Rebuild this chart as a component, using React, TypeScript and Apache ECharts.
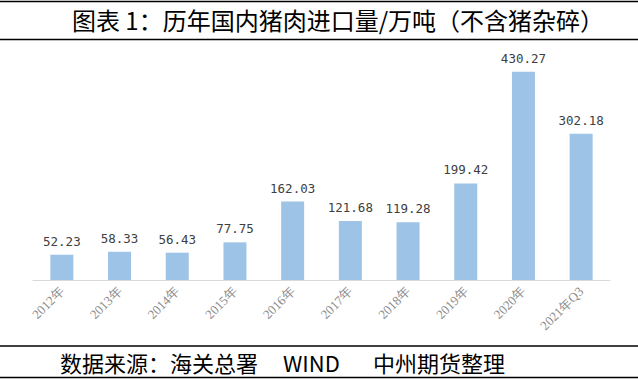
import React, { useEffect, useRef } from "react";
import * as echarts from "echarts";

const categories = ["2012年", "2013年", "2014年", "2015年", "2016年", "2017年", "2018年", "2019年", "2020年", "2021年Q3"];
const imports = [52.23, 58.33, 56.43, 77.75, 162.03, 121.68, 119.28, 199.42, 430.27, 302.18];
const titleText = "图表 1：历年国内猪肉进口量/万吨（不含猪杂碎）";
const sourceParts = ["数据来源：海关总署", "WIND", "中州期货整理"];

export default function App() {
  const ref = useRef<HTMLDivElement>(null);
  useEffect(() => {
    document.body.style.margin = "0";
    const chart = echarts.init(ref.current!, null, { renderer: "svg" });
    const footerX = [60, 283, 373];
    chart.setOption({
      animation: false,
      grid: { left: 33, right: 28, top: 38, bottom: 100, containLabel: false },
      xAxis: {
        type: "category",
        data: categories,
        axisTick: { show: false },
        axisLine: { lineStyle: { color: "#d9d9d9", width: 1 } },
        axisLabel: {
          rotate: 45,
          color: "#8c8c8c",
          fontFamily: "Liberation Serif",
          fontSize: 13,
          margin: 9,
          interval: 0,
        },
      },
      yAxis: {
        type: "value",
        min: 0,
        max: 500,
        show: false,
        splitLine: { show: false },
      },
      series: [
        {
          type: "bar",
          data: imports,
          barWidth: 23,
          itemStyle: { color: "#9dc3e6" },
          label: {
            show: true,
            position: "top",
            distance: 7,
            color: "#404040",
            fontFamily: "DejaVu Sans Mono",
            fontSize: 12.5,
            formatter: (p: any) => p.value.toFixed(2),
          },
        },
      ],
      graphic: [
        { type: "line", shape: { x1: 0, y1: 1.5, x2: 638, y2: 1.5 }, style: { stroke: "#000", lineWidth: 1.5 } },
        { type: "line", shape: { x1: 0, y1: 39.5, x2: 638, y2: 39.5 }, style: { stroke: "#000", lineWidth: 1.5 } },
        { type: "line", shape: { x1: 0, y1: 346, x2: 638, y2: 346 }, style: { stroke: "#000", lineWidth: 1.5 } },
        { type: "line", shape: { x1: 0, y1: 377.5, x2: 638, y2: 377.5 }, style: { stroke: "#000", lineWidth: 1.5 } },
        {
          type: "text",
          x: 338,
          y: 19,
          style: {
            text: titleText,
            fill: "#000",
            font: '24px "Noto Sans CJK SC"',
            textAlign: "center",
            textVerticalAlign: "middle",
          },
        },
        ...sourceParts.map((t, i) => ({
          type: "text",
          x: footerX[i],
          y: 362,
          style: {
            text: t,
            fill: "#000",
            font: '22px "Noto Sans CJK SC"',
            textAlign: "left",
            textVerticalAlign: "middle",
          },
        })),
      ],
    });
    return () => chart.dispose();
  }, []);
  return <div ref={ref} style={{ width: 638, height: 380 }} />;
}
